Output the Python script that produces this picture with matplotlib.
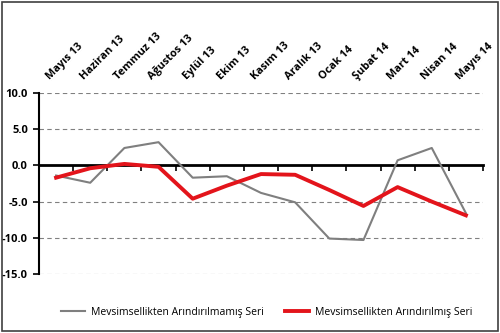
import matplotlib
matplotlib.use("Agg")
import matplotlib.pyplot as plt
from matplotlib.patches import Rectangle

months = ["Mayıs 13", "Haziran 13", "Temmuz 13", "Ağustos 13", "Eylül 13", "Ekim 13",
          "Kasım 13", "Aralık 13", "Ocak 14", "Şubat 14", "Mart 14", "Nisan 14", "Mayıs 14"]
unadjusted = [-1.4, -2.4, 2.4, 3.2, -1.7, -1.5, -3.8, -5.1, -10.1, -10.3, 0.7, 2.4, -6.6]
adjusted = [-1.7, -0.4, 0.2, -0.2, -4.6, -2.8, -1.2, -1.3, -3.4, -5.6, -3.0, -5.0, -6.9]
y_ticks = [10, 5, 0, -5, -10, -15]
series_names = ["Mevsimsellikten Arındırılmamış Seri", "Mevsimsellikten Arındırılmış Seri"]

plt.rcParams["font.family"] = ["Open Sans", "DejaVu Sans"]

fig = plt.figure(figsize=(5.0, 3.33), dpi=100)
ax = fig.add_axes([0.078, 0.177, 0.888, 0.544])

x = list(range(len(months)))
ax.plot(x, unadjusted, color="#7f7f7f", lw=1.5, zorder=3, label=series_names[0])
ax.plot(x, adjusted, color="#e3141b", lw=2.8, zorder=4, label=series_names[1])

ax.set_xlim(-0.5, len(months) - 0.5)
ax.set_ylim(-15, 10)

# dashed horizontal gridlines
for v in y_ticks:
    if v != 0:
        ax.axhline(v, color="#808080", lw=0.8, ls=(0, (4, 3)), zorder=1)

ax.set_yticks(y_ticks)
ax.set_yticklabels([f"{v:.1f}" for v in y_ticks], fontsize=8, fontweight="bold")
ax.tick_params(axis="y", direction="out", length=4, width=1.2, pad=4)

# category axis on the zero line, ticks between categories
ax.spines["bottom"].set_position(("data", 0))
ax.spines["bottom"].set_linewidth(2)
ax.spines["left"].set_linewidth(1.5)
ax.spines["top"].set_visible(False)
ax.spines["right"].set_visible(False)
ax.set_xticks([i - 0.5 for i in range(len(months) + 1)])
ax.set_xticklabels([])
ax.tick_params(axis="x", direction="out", length=4, width=1.2)

# month labels above the plot
for i, m in enumerate(months):
    ax.annotate(m, xy=(i, 1.0), xycoords=("data", "axes fraction"),
                xytext=(-3, 8), textcoords="offset points",
                rotation=45, rotation_mode="anchor", ha="left", va="bottom",
                fontsize=7.8, fontweight="bold")

fig.legend(loc="center", bbox_to_anchor=(0.533, 0.063), ncol=2, frameon=False,
           fontsize=7.5, handlelength=2.3, columnspacing=2.0, handletextpad=0.6)

fig.patches.append(Rectangle((0.004, 0.006), 0.992, 0.988, transform=fig.transFigure,
                             fill=False, edgecolor="#404040", lw=1.2))

fig.savefig("out.png", dpi=100)
